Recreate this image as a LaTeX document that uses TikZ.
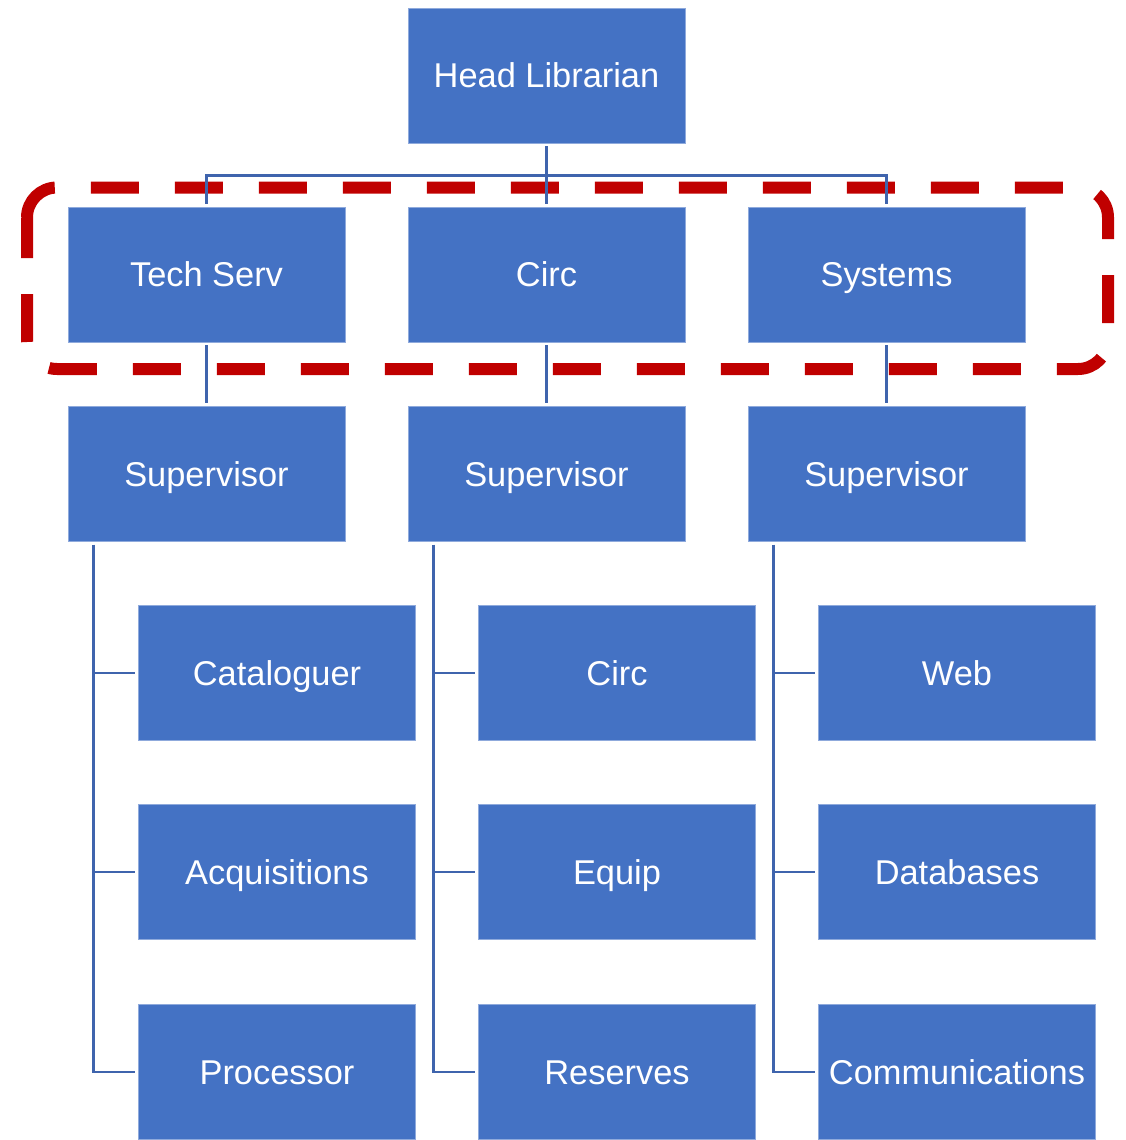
\documentclass[tikz,border=0pt]{standalone}
\usepackage{fontspec}
\setmainfont{Liberation Sans}
\definecolor{boxblue}{HTML}{4472C4}
\definecolor{boxedge}{HTML}{8FAADC}
\definecolor{linkblue}{HTML}{3F64AD}
\definecolor{groupred}{HTML}{C00000}
\begin{document}
\begin{tikzpicture}[x=1pt,y=-1pt,
  orgbox/.style={rectangle, fill=boxblue, draw=boxedge, line width=0.8pt,
    minimum width=277pt, minimum height=135pt, inner sep=0pt,
    text height=24.6pt, text depth=0pt,
    text=white, font=\fontsize{34.4}{40}\selectfont},
  link/.style={draw=linkblue, line width=2.4pt, shorten <=3pt, shorten >=3pt},
  groupframe/.style={draw=groupred, line width=12pt, rounded corners=30pt,
    dash pattern=on 48pt off 36pt, dash phase=7.5pt}]
\useasboundingbox (0,0) rectangle (1126,1140);

% dashed frame round the second level
\draw[groupframe] (27,217.5) -- (27,369) -- (1108,369) -- (1108,187.5)
  -- (27,187.5) -- (27,217.5);

% top of the tree
\node[orgbox] (head) at (546.5,75.5) {Head Librarian};

% department heads
\node[orgbox] (ts)  at (206.5,274.5) {Tech Serv};
\node[orgbox] (ci)  at (546.5,274.5) {Circ};
\node[orgbox] (sy)  at (886.5,274.5) {Systems};

% supervisors
\node[orgbox] (s1) at (206.5,474) {Supervisor};
\node[orgbox] (s2) at (546.5,474) {Supervisor};
\node[orgbox] (s3) at (886.5,474) {Supervisor};

% staff under each supervisor
\node[orgbox] (a1) at (277,673)  {Cataloguer};
\node[orgbox] (a2) at (277,872)  {Acquisitions};
\node[orgbox] (a3) at (277,1072) {Processor};
\node[orgbox] (b1) at (617,673)  {Circ};
\node[orgbox] (b2) at (617,872)  {Equip};
\node[orgbox] (b3) at (617,1072) {Reserves};
\node[orgbox] (c1) at (957,673)  {Web};
\node[orgbox] (c2) at (957,872)  {Databases};
\node[orgbox] (c3) at (957,1072) {Communications};

% connectors
\coordinate (bus) at ([yshift=-32pt]head.south);
\draw[link, shorten >=0pt] (head.south) -- (bus);
\draw[link, shorten <=0pt] (bus) -| (ts.north);
\draw[link, shorten <=0pt] (bus) -| (sy.north);
\draw[link, shorten <=0pt] (bus) -- (ci.north);

\draw[link] (ts.south) -- (s1.north);
\draw[link] (ci.south) -- (s2.north);
\draw[link] (sy.south) -- (s3.north);

\foreach \s/\k in {s1/a, s2/b, s3/c}{
  \foreach \i in {1,2,3}{
    \draw[link] ([xshift=26pt]\s.south west) |- (\k\i.west);
  }
}
\end{tikzpicture}
\end{document}
